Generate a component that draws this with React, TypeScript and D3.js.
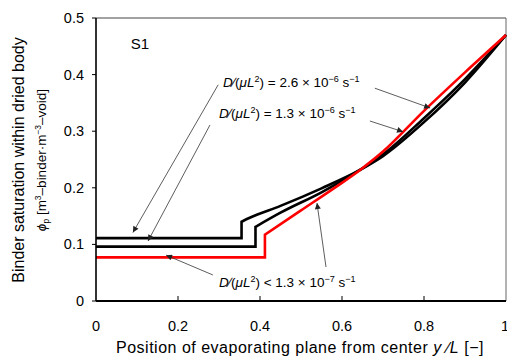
import React from "react";
import * as d3 from "d3";

const W = 507;
const H = 358;
const M = { left: 96, right: 506, top: 18, bottom: 301 };

const xTicks = [0, 0.2, 0.4, 0.6, 0.8, 1];
const yTicks = [0, 0.1, 0.2, 0.3, 0.4, 0.5];
const xTickLabels = ["0", "0.2", "0.4", "0.6", "0.8", "1"];
const yTickLabels = ["0", "0.1", "0.2", "0.3", "0.4", "0.5"];

// Series: D/(μL²) = 2.6e-6  (first three points: flat part + step)
const xA = [0, 0.355, 0.355, 0.375, 0.45, 0.55, 0.645, 0.7, 0.8, 0.9, 1];
const yA = [0.111, 0.111, 0.14, 0.147, 0.168, 0.199, 0.232, 0.256, 0.316, 0.386, 0.47];
// Series: D/(μL²) = 1.3e-6
const xB = [0, 0.389, 0.389, 0.45, 0.55, 0.645, 0.7, 0.8, 0.9, 1];
const yB = [0.096, 0.096, 0.131, 0.156, 0.192, 0.232, 0.259, 0.323, 0.392, 0.47];
// Series: D/(μL²) < 1.3e-7
const xC = [0, 0.412, 0.412, 0.5, 0.58, 0.645, 0.7, 0.8, 0.9, 1];
const yC = [0.077, 0.077, 0.117, 0.16, 0.199, 0.232, 0.264, 0.336, 0.404, 0.47];

const seriesColors = ["#000000", "#000000", "#ff0000"];

// Annotation arrows: [x1, y1, x2, y2] in data units (from label to curve)
const arrows = [
  [0.298, 0.382, 0.09, 0.121],
  [0.68, 0.376, 0.815, 0.341],
  [0.278, 0.311, 0.127, 0.106],
  [0.668, 0.318, 0.749, 0.299],
  [0.285, 0.046, 0.171, 0.081],
  [0.561, 0.06, 0.539, 0.173],
];

const labelPos = [
  [0.31, 0.378],
  [0.3, 0.323],
  [0.3, 0.024],
];
const labelOp = ["=", "=", "<"];
const labelMant = ["2.6", "1.3", "1.3"];
const labelExp = ["−6", "−6", "−7"];

const FONT = "'Liberation Sans', Arial, sans-serif";

export default function App() {
  const x = d3.scaleLinear().domain([0, 1]).range([M.left, M.right]);
  const y = d3.scaleLinear().domain([0, 0.5]).range([M.bottom, M.top]);
  const lineLin = d3
    .line<[number, number]>()
    .x((d) => x(d[0]))
    .y((d) => y(d[1]));
  const lineSmooth = d3
    .line<[number, number]>()
    .x((d) => x(d[0]))
    .y((d) => y(d[1]))
    .curve(d3.curveMonotoneX);

  const series = [
    xA.map((v, i) => [v, yA[i]] as [number, number]),
    xB.map((v, i) => [v, yB[i]] as [number, number]),
    xC.map((v, i) => [v, yC[i]] as [number, number]),
  ];
  const pathFor = (s: [number, number][]) => {
    const a = lineLin(s.slice(0, 3)) || "";
    const b = (lineSmooth(s.slice(2)) || "").replace(/^M[^CLM]*/, "");
    return a + b;
  };

  return (
    <svg
      width={W}
      height={H}
      style={{ position: "absolute", left: 0, top: 0, background: "#fff" }}
      fontFamily={FONT}
    >
      <defs>
        <marker
          id="ah"
          viewBox="0 0 10 10"
          refX="10"
          refY="5"
          markerWidth="7"
          markerHeight="6"
          orient="auto"
          markerUnits="userSpaceOnUse"
        >
          <path d="M0,0 L10,5 L0,10 z" fill="#222" />
        </marker>
      </defs>
      {/* frame */}
      <line x1={M.left} x2={M.right} y1={M.top} y2={M.top} stroke="#444" strokeWidth={1} />
      <line x1={M.right} x2={M.right} y1={M.top} y2={M.bottom} stroke="#666" strokeWidth={1} />
      {/* curves */}
      {series.map((s, i) => (
        <path
          key={i}
          d={pathFor(s)}
          fill="none"
          stroke={seriesColors[i]}
          strokeWidth={2.6}
          strokeLinejoin="miter"
        />
      ))}
      {/* axes */}
      <line x1={M.left} x2={M.left} y1={M.top} y2={M.bottom} stroke="#000" strokeWidth={1.6} />
      <line x1={M.left} x2={M.right} y1={M.bottom} y2={M.bottom} stroke="#000" strokeWidth={2} />
      {xTicks.map((t, i) => (
        <g key={"xt" + i}>
          {i > 0 && i < xTicks.length - 1 && (
            <line x1={x(t)} x2={x(t)} y1={M.bottom} y2={M.bottom - 5} stroke="#000" strokeWidth={1} />
          )}
          <text
            x={i === xTicks.length - 1 ? x(t) - 1 : x(t)}
            y={331}
            fontSize={14.5}
            textAnchor="middle"
            fill="#000"
          >
            {xTickLabels[i]}
          </text>
        </g>
      ))}
      {yTicks.map((t, i) => (
        <g key={"yt" + i}>
          <line x1={M.left - 4} x2={M.left} y1={y(t)} y2={y(t)} stroke="#000" strokeWidth={1} />
          <text x={84} y={y(t) + 5} fontSize={14.5} textAnchor="end" fill="#000">
            {yTickLabels[i]}
          </text>
        </g>
      ))}
      {/* arrows */}
      {arrows.map((a, i) => (
        <line
          key={"ar" + i}
          x1={x(a[0])}
          y1={y(a[1])}
          x2={x(a[2])}
          y2={y(a[3])}
          stroke="#333"
          strokeWidth={0.8}
          markerEnd="url(#ah)"
        />
      ))}
      {/* labels */}
      {labelPos.map((p, i) => (
        <text key={"lb" + i} x={x(p[0])} y={y(p[1])} fontSize={13.5} fill="#000">
          <tspan fontStyle="italic">D</tspan>
          <tspan>∕(</tspan>
          <tspan fontStyle="italic">μL</tspan>
          <tspan fontSize={9} dy={-5}>2</tspan>
          <tspan dy={5}>{")" + (labelOp[i] === "=" ? " =  " : " <  ") + labelMant[i] + "  ×  10"}</tspan>
          <tspan fontSize={9} dy={-5}>{labelExp[i]}</tspan>
          <tspan dy={5}> s</tspan>
          <tspan fontSize={9} dy={-5}>−1</tspan>
        </text>
      ))}
      <text x={x(0.085)} y={y(0.445)} fontSize={15} fill="#000">S1</text>
      {/* axis titles */}
      <text x={300} y={353} fontSize={16} letterSpacing={0.5} textAnchor="middle" fill="#000">
        Position of evaporating plane from center <tspan fontStyle="italic">y</tspan> ∕<tspan fontStyle="italic">L</tspan> [−]
      </text>
      <text transform="translate(24,160) rotate(-90)" fontSize={16} textAnchor="middle" fill="#000">
        Binder saturation within dried body
      </text>
      <text transform="translate(46,160) rotate(-90)" fontSize={13.5} textAnchor="middle" fill="#000">
        <tspan fontStyle="italic">ϕ</tspan>
        <tspan fontSize={8.5} dy={3}>p</tspan>
        <tspan dy={-3}> [m</tspan>
        <tspan fontSize={8.5} dy={-5}>3</tspan>
        <tspan dy={5}>–binder·m</tspan>
        <tspan fontSize={8.5} dy={-5}>−3</tspan>
        <tspan dy={5}>–void]</tspan>
      </text>
    </svg>
  );
}
